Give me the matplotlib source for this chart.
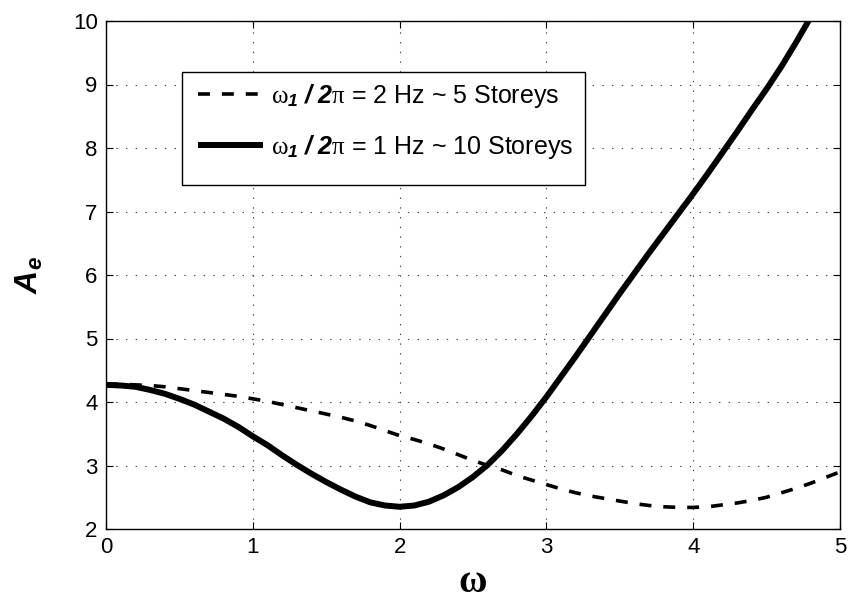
import matplotlib
matplotlib.use("Agg")
import matplotlib.pyplot as plt
from matplotlib.patches import Rectangle

plt.rcParams['font.family'] = ['Liberation Sans', 'DejaVu Sans']
plt.rcParams['mathtext.fontset'] = 'custom'
plt.rcParams['mathtext.rm'] = 'Liberation Sans'
plt.rcParams['mathtext.it'] = 'Liberation Serif'
plt.rcParams['mathtext.bf'] = 'Liberation Sans:bold:italic'
plt.rcParams['lines.scale_dashes'] = False

# data
omega = [0.0, 0.1, 0.2, 0.3, 0.4, 0.5, 0.6, 0.7, 0.8, 0.9,
         1.0, 1.1, 1.2, 1.3, 1.4, 1.5, 1.6, 1.7, 1.8, 1.9,
         2.0, 2.1, 2.2, 2.3, 2.4, 2.5, 2.6, 2.7, 2.8, 2.9,
         3.0, 3.1, 3.2, 3.3, 3.4, 3.5, 3.6, 3.7, 3.8, 3.9,
         4.0, 4.1, 4.2, 4.3, 4.4, 4.5, 4.6, 4.7, 4.8, 4.9, 5.0]
ae_5storeys = [4.28, 4.28, 4.27, 4.26, 4.24, 4.21, 4.18, 4.15, 4.12, 4.09,
               4.05, 4.01, 3.96, 3.91, 3.86, 3.81, 3.76, 3.70, 3.63, 3.55,
               3.47, 3.41, 3.34, 3.26, 3.17, 3.08, 3.00, 2.93, 2.84, 2.77,
               2.70, 2.63, 2.57, 2.52, 2.48, 2.44, 2.40, 2.37, 2.35, 2.34,
               2.34, 2.35, 2.38, 2.41, 2.45, 2.50, 2.57, 2.64, 2.72, 2.81, 2.90]
ae_10storeys = [4.27, 4.26, 4.24, 4.19, 4.13, 4.05, 3.96, 3.85, 3.74, 3.61,
                3.46, 3.32, 3.16, 3.01, 2.87, 2.74, 2.62, 2.51, 2.42, 2.37,
                2.35, 2.37, 2.43, 2.53, 2.66, 2.82, 3.01, 3.24, 3.50, 3.78,
                4.08, 4.40, 4.72, 5.05, 5.38, 5.71, 6.03, 6.35, 6.66, 6.97,
                7.28, 7.60, 7.93, 8.26, 8.60, 8.93, 9.28, 9.66, 10.06, 10.45, 10.85]
labels = [r'$\omega_{\mathbf{1}}\ \mathbf{/}\ \mathbf{2}\pi$ = 2 Hz ~ 5 Storeys',
          r'$\omega_{\mathbf{1}}\ \mathbf{/}\ \mathbf{2}\pi$ = 1 Hz ~ 10 Storeys']
xticks = [0, 1, 2, 3, 4, 5]
yticks = [2, 3, 4, 5, 6, 7, 8, 9, 10]

W, H = 850, 608
fig = plt.figure(figsize=(W/100, H/100), dpi=100)
ax = fig.add_axes([106/W, 1-529/H, (840-106)/W, (529-21)/H])

ax.plot(omega, ae_5storeys, color='black', lw=2.6, dashes=(8.6, 8.6),
        label=labels[0])
ax.plot(omega, ae_10storeys, color='black', lw=4.3, label=labels[1],
        solid_capstyle='butt')

ax.set_xlim(0, 5)
ax.set_ylim(2, 10)
ax.set_xticks(xticks)
ax.set_yticks(yticks)
ax.grid(True, color='#444444', linestyle=(0, (1, 6)), lw=0.8)
ax.tick_params(direction='in', length=5, width=0.8, top=True, right=True,
               labelsize=16, pad=6)
for s in ax.spines.values():
    s.set_linewidth(1.0)

ax.set_xlabel('ω', fontsize=28, fontfamily='Liberation Serif',
              fontweight='bold', labelpad=4)
ax.set_ylabel(r'$\mathbf{A_e}$', fontsize=23, labelpad=20)

# legend: entries without frame, box drawn separately like MATLAB
ax.add_patch(Rectangle((182/W, 1-185/H), (585-182)/W, (185-72)/H,
                       transform=fig.transFigure, facecolor='white',
                       edgecolor='black', lw=1.0, zorder=4, clip_on=False))
leg = ax.legend(loc='upper left', bbox_to_anchor=(185/W, 1-69/H),
                bbox_transform=fig.transFigure,
                fontsize=18, handlelength=2.6, handletextpad=0.35,
                borderpad=0.0, labelspacing=0.93, frameon=False)
leg.set_zorder(5)

fig.savefig('out.png', dpi=100)
